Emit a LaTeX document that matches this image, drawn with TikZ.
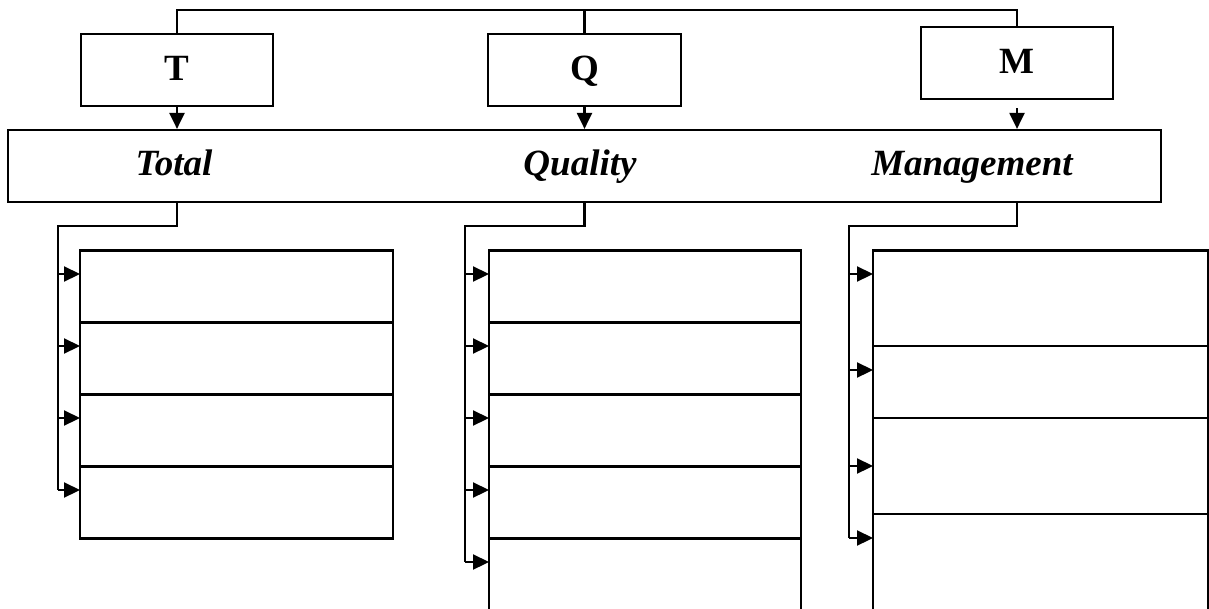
\documentclass[tikz,border=0pt]{standalone}
\usepackage{fontspec}
\setmainfont{Liberation Serif}
\usetikzlibrary{arrows.meta,calc}
\begin{document}
\begin{tikzpicture}[x=1pt,y=-1pt,
  conn/.style={line width=2.2pt},
  arr/.style={conn,-{Triangle[length=16pt,width=15pt]}},
  letterbox/.style={draw,line width=2.2pt,minimum width=192pt,minimum height=72pt,inner sep=0pt,
    font=\fontsize{37}{40}\selectfont\bfseries,text height=20pt,text depth=0pt},
  bigbox/.style={draw,line width=2.2pt,minimum width=1153pt,minimum height=72pt,inner sep=0pt},
  word/.style={anchor=base,inner sep=0pt,font=\fontsize{37}{40}\selectfont\bfseries\itshape},
  rowbox/.style={draw,line width=2.2pt,anchor=north west,inner sep=0pt,outer sep=0pt,minimum width=#1}]
\useasboundingbox (0,0) rectangle (1209,608);
\clip (0,0) rectangle (1209,608);

% top letters
\node[letterbox] (T) at (177,70) {T};
\node[letterbox,minimum width=193pt] (Q) at (584.5,70) {Q};
\node[letterbox] (M) at (1017,63) {M};

% main box
\node[bigbox] (main) at (584.5,166) {};
\node[word] (wT) at (174,175) {Total};
\node[word] (wQ) at (580,175) {Quality};
\node[word] (wM) at (972,175) {Management};

% top connector
\coordinate (top) at (0,10);
\draw[conn] (T.north) -- (T.north |- top) -| (M.north);
\draw[conn] (Q.north) -- (Q.north |- top);

% arrows into main box
\draw[arr] (T.south) -- (T.south |- main.north);
\draw[arr] (Q.south) -- (Q.south |- main.north);
\draw[arr,shorten <=8pt] (M.south) -- (M.south |- main.north);

% ---------- left column ----------
\node[rowbox=313pt,minimum height=72pt] (L1) at (80,250.5) {};
\node[rowbox=313pt,minimum height=72pt] (L2) at (L1.south west) {};
\node[rowbox=313pt,minimum height=72pt] (L3) at (L2.south west) {};
\node[rowbox=313pt,minimum height=72pt] (L4) at (L3.south west) {};
\coordinate (tT) at (58,226);
\coordinate (la1) at ($(L1.north west)+(0,23.5)$);
\coordinate (la2) at ($(L2.north west)+(0,23.5)$);
\coordinate (la3) at ($(L3.north west)+(0,23.5)$);
\coordinate (la4) at ($(L4.north west)+(0,23.5)$);
\draw[conn] (T.south |- main.south) -- (T.south |- tT) -- (tT) -- (tT |- la4);
\foreach \a in {la1,la2,la3,la4} \draw[arr] (\a -| tT) -- (\a);

% ---------- middle column ----------
\node[rowbox=312pt,minimum height=72pt] (Q1) at (489,250.5) {};
\node[rowbox=312pt,minimum height=72pt] (Q2) at (Q1.south west) {};
\node[rowbox=312pt,minimum height=72pt] (Q3) at (Q2.south west) {};
\node[rowbox=312pt,minimum height=72pt] (Q4) at (Q3.south west) {};
\node[rowbox=312pt,minimum height=150pt] (Q5) at (Q4.south west) {};
\coordinate (tQ) at (465,226);
\coordinate (qa1) at ($(Q1.north west)+(0,23.5)$);
\coordinate (qa2) at ($(Q2.north west)+(0,23.5)$);
\coordinate (qa3) at ($(Q3.north west)+(0,23.5)$);
\coordinate (qa4) at ($(Q4.north west)+(0,23.5)$);
\coordinate (qa5) at ($(Q5.north west)+(0,23.5)$);
\draw[conn] (Q.south |- main.south) -- (Q.south |- tQ) -- (tQ) -- (tQ |- qa5);
\foreach \a in {qa1,qa2,qa3,qa4,qa5} \draw[arr] (\a -| tQ) -- (\a);

% ---------- right column ----------
\node[rowbox=335pt,minimum height=95.5pt] (M1) at (873,250.5) {};
\node[rowbox=335pt,minimum height=72pt] (M2) at (M1.south west) {};
\node[rowbox=335pt,minimum height=96pt] (M3) at (M2.south west) {};
\node[rowbox=335pt,minimum height=150pt] (M4) at (M3.south west) {};
\coordinate (tM) at (849,226);
\coordinate (ma1) at ($(M1.north west)+(0,23.5)$);
\coordinate (ma2) at ($(M2.north west)+(0,24)$);
\coordinate (ma3) at ($(M3.north west)+(0,48)$);
\coordinate (ma4) at ($(M4.north west)+(0,24)$);
\draw[conn] (M.south |- main.south) -- (M.south |- tM) -- (tM) -- (tM |- ma4);
\foreach \a in {ma1,ma2,ma3,ma4} \draw[arr] (\a -| tM) -- (\a);
\end{tikzpicture}
\end{document}
